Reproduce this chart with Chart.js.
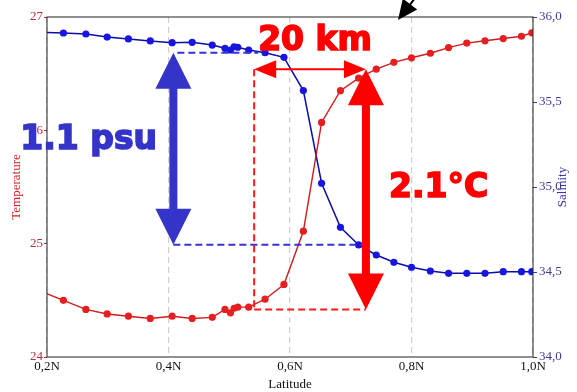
<!DOCTYPE html>
<html lang="en">
<head>
  <meta charset="UTF-8">
  <title>Temperature and salinity across the front</title>
  <script src="https://cdn.jsdelivr.net/npm/chart.js"></script>
  <style>
    body { margin: 0; background: #fff; }
    #wrap { width: 577px; height: 392px; }
  </style>
</head>
<body>
  <div id="wrap"><canvas id="frontChart"></canvas></div>

  <script>
    // data (latitude in degrees N)
    const latitude = [0.194, 0.227, 0.264, 0.299, 0.334, 0.370, 0.406, 0.439, 0.472, 0.493,
                      0.502, 0.508, 0.514, 0.532, 0.559, 0.590, 0.622, 0.652, 0.683, 0.713,
                      0.742, 0.771, 0.800, 0.831, 0.861, 0.891, 0.921, 0.951, 0.981, 0.998];
    const temperature = [24.57, 24.50, 24.42, 24.38, 24.36, 24.34, 24.36, 24.34, 24.35, 24.42,
                         24.39, 24.43, 24.44, 24.44, 24.51, 24.64, 25.11, 26.07, 26.35, 26.46,
                         26.54, 26.60, 26.64, 26.68, 26.73, 26.77, 26.79, 26.81, 26.83, 26.86];
    const salinity = [35.909, 35.906, 35.900, 35.882, 35.871, 35.859, 35.849, 35.851, 35.835, 35.816,
                      35.806, 35.825, 35.822, 35.806, 35.790, 35.763, 35.567, 35.022, 34.763, 34.659,
                      34.600, 34.557, 34.528, 34.506, 34.492, 34.492, 34.492, 34.502, 34.502, 34.502];
    const latTicks = [0.2, 0.4, 0.6, 0.8, 1.0];

    // annotation levels (data units)
    const salHigh = 35.79, salLow = 34.66;
    const tempHigh = 26.54, tempLow = 24.42;
    const latPsu = 0.408;
    const latFrontStart = 0.541, latFrontEnd = 0.725;

    const serif = '"Liberation Serif", "Times New Roman", serif';
    const bold = '"DejaVu Sans", Verdana, sans-serif';

    function arrowHead(ctx, tx, ty, dx, dy, len, half) {
      // tip at (tx,ty), pointing along (dx,dy)
      const n = Math.hypot(dx, dy); dx /= n; dy /= n;
      const bx = tx - dx * len, by = ty - dy * len;
      ctx.beginPath();
      ctx.moveTo(tx, ty);
      ctx.lineTo(bx - dy * half, by + dx * half);
      ctx.lineTo(bx + dy * half, by - dx * half);
      ctx.closePath();
      ctx.fill();
    }

    function dashed(ctx, x1, y1, x2, y2, color) {
      ctx.save();
      ctx.strokeStyle = color;
      ctx.lineWidth = 2;
      ctx.setLineDash([7, 4]);
      ctx.beginPath();
      ctx.moveTo(x1, y1);
      ctx.lineTo(x2, y2);
      ctx.stroke();
      ctx.restore();
    }

    function bigVArrow(ctx, x, yTop, yBot, color) {
      ctx.save();
      ctx.fillStyle = color;
      ctx.fillRect(x - 4, yTop + 30, 8, yBot - yTop - 60);
      arrowHead(ctx, x, yTop, 0, -1, 36, 18);
      arrowHead(ctx, x, yBot, 0, 1, 36, 18);
      ctx.restore();
    }

    function heavyText(ctx, text, x, y, color) {
      ctx.fillStyle = color;
      ctx.strokeStyle = color;
      ctx.lineWidth = 1.6;
      ctx.fillText(text, x, y);
      ctx.strokeText(text, x, y);
    }

    const annotate = {
      id: 'annotate',
      afterDraw(chart) {
        const { ctx, chartArea: a, scales: { x, y, y1 } } = chart;

        // frame
        ctx.save();
        ctx.strokeStyle = '#222';
        ctx.lineWidth = 1;
        ctx.strokeRect(a.left, a.top, a.right - a.left, a.bottom - a.top);
        ctx.restore();

        // right axis title reads bottom to top
        ctx.save();
        ctx.translate(563, (a.top + a.bottom) / 2);
        ctx.rotate(-Math.PI / 2);
        ctx.font = '13px ' + serif;
        ctx.fillStyle = '#3535a5';
        ctx.textAlign = 'center';
        ctx.textBaseline = 'middle';
        ctx.fillText('Salinity', 0, 0);
        ctx.restore();

        const bx = x.getPixelForValue(latPsu);
        const sTop = y1.getPixelForValue(salHigh);
        const sBot = y1.getPixelForValue(salLow);
        const fx1 = x.getPixelForValue(latFrontStart);
        const fx2 = x.getPixelForValue(latFrontEnd);
        const tTop = y.getPixelForValue(tempHigh);
        const tBot = y.getPixelForValue(tempLow);

        // blue dashed levels
        dashed(ctx, bx + 4, sTop, fx1 + 4, sTop, '#3333d6');
        dashed(ctx, bx, sBot, fx2, sBot, '#3333d6');
        // red dashed box edges
        dashed(ctx, fx1, tTop, fx1, tBot, '#ff1a1a');
        dashed(ctx, fx1, tBot, fx2, tBot, '#ff1a1a');

        // arrows
        bigVArrow(ctx, bx, sTop, sBot, '#3434c8');
        bigVArrow(ctx, fx2, tTop, tBot, '#ff0000');

        ctx.save();
        ctx.strokeStyle = '#ff0000';
        ctx.fillStyle = '#ff0000';
        ctx.lineWidth = 2;
        ctx.beginPath();
        ctx.moveTo(fx1 + 10, tTop);
        ctx.lineTo(fx2 - 10, tTop);
        ctx.stroke();
        arrowHead(ctx, fx1, tTop, -1, 0, 22, 9);
        arrowHead(ctx, fx2, tTop, 1, 0, 22, 9);
        ctx.restore();

        // black pointer at the top
        ctx.save();
        ctx.strokeStyle = '#000';
        ctx.fillStyle = '#000';
        ctx.lineWidth = 2;
        ctx.beginPath();
        ctx.moveTo(418, -6);
        ctx.lineTo(406, 10);
        ctx.stroke();
        arrowHead(ctx, 398, 20, -0.6, 0.8, 20, 9);
        ctx.restore();

        // labels
        ctx.save();
        ctx.font = 'bold 33px ' + bold;
        ctx.textBaseline = 'alphabetic';
        ctx.textAlign = 'left';
        heavyText(ctx, '1.1 psu', bx - 153, (sTop + sBot) / 2, '#3434c8');
        heavyText(ctx, '20 km', fx1 + 4, tTop - 19, '#ff0000');
        heavyText(ctx, '2.1°C', fx2 + 23, (tTop + tBot) / 2 + 8, '#ff0000');
        ctx.restore();
      }
    };

    const tempPoints = latitude.map((v, i) => ({ x: v, y: temperature[i] }));
    const salPoints = latitude.map((v, i) => ({ x: v, y: salinity[i] }));
    const radius = c => (c.raw && c.raw.x < 0.2 ? 0 : 3.6);

    const chart = new Chart(document.getElementById('frontChart'), {
      type: 'scatter',
      data: {
        datasets: [
          {
            label: 'Temperature',
            data: tempPoints,
            yAxisID: 'y',
            showLine: true,
            borderColor: '#cf1c1c',
            borderWidth: 1.4,
            backgroundColor: '#e51f1f',
            pointBorderColor: '#e51f1f',
            pointRadius: radius,
            pointBorderWidth: 0
          },
          {
            label: 'Salinity',
            data: salPoints,
            yAxisID: 'y1',
            showLine: true,
            borderColor: '#0c0ca6',
            borderWidth: 1.5,
            backgroundColor: '#1616e0',
            pointBorderColor: '#1616e0',
            pointRadius: radius,
            pointBorderWidth: 0
          }
        ]
      },
      options: {
        responsive: true,
        maintainAspectRatio: false,
        animation: false,
        layout: { padding: { top: 17, left: 0, right: 0, bottom: 0 } },
        plugins: {
          legend: { display: false },
          tooltip: { enabled: false }
        },
        scales: {
          x: {
            type: 'linear',
            min: 0.2,
            max: 1.0,
            afterBuildTicks: s => { s.ticks = latTicks.map(v => ({ value: v })); },
            afterFit: s => { s.height = 35; },
            ticks: {
              color: '#111',
              font: { family: serif, size: 13 },
              padding: 2,
              maxRotation: 0,
              callback: v => v.toFixed(1).replace('.', ',') + 'N'
            },
            grid: { color: '#d0d0d0', lineWidth: 1.2, drawTicks: false },
            border: { display: false, dash: [6, 4] },
            title: {
              display: true,
              text: 'Latitude',
              color: '#111',
              font: { family: serif, size: 13 },
              padding: { top: 0, bottom: 0 }
            }
          },
          y: {
            position: 'left',
            min: 24,
            max: 27,
            afterFit: s => { s.width = 47; },
            ticks: {
              stepSize: 1,
              color: '#b5303c',
              font: { family: serif, size: 13 },
              padding: 1
            },
            grid: { drawOnChartArea: false, tickLength: 3, color: '#b5303c' },
            border: { display: false },
            title: {
              display: true,
              text: 'Temperature',
              color: '#cc2222',
              font: { family: serif, size: 13 },
              padding: { top: 9, bottom: 0 }
            }
          },
          y1: {
            position: 'right',
            min: 34,
            max: 36,
            afterFit: s => { s.width = 44; },
            ticks: {
              stepSize: 0.5,
              color: '#3b3b9c',
              font: { family: serif, size: 13 },
              padding: 2,
              callback: v => v.toFixed(1).replace('.', ',')
            },
            grid: { drawOnChartArea: false, tickLength: 4, color: '#3b3b9c' },
            border: { display: false }
          }
        }
      },
      plugins: [annotate]
    });
  </script>
</body>
</html>
